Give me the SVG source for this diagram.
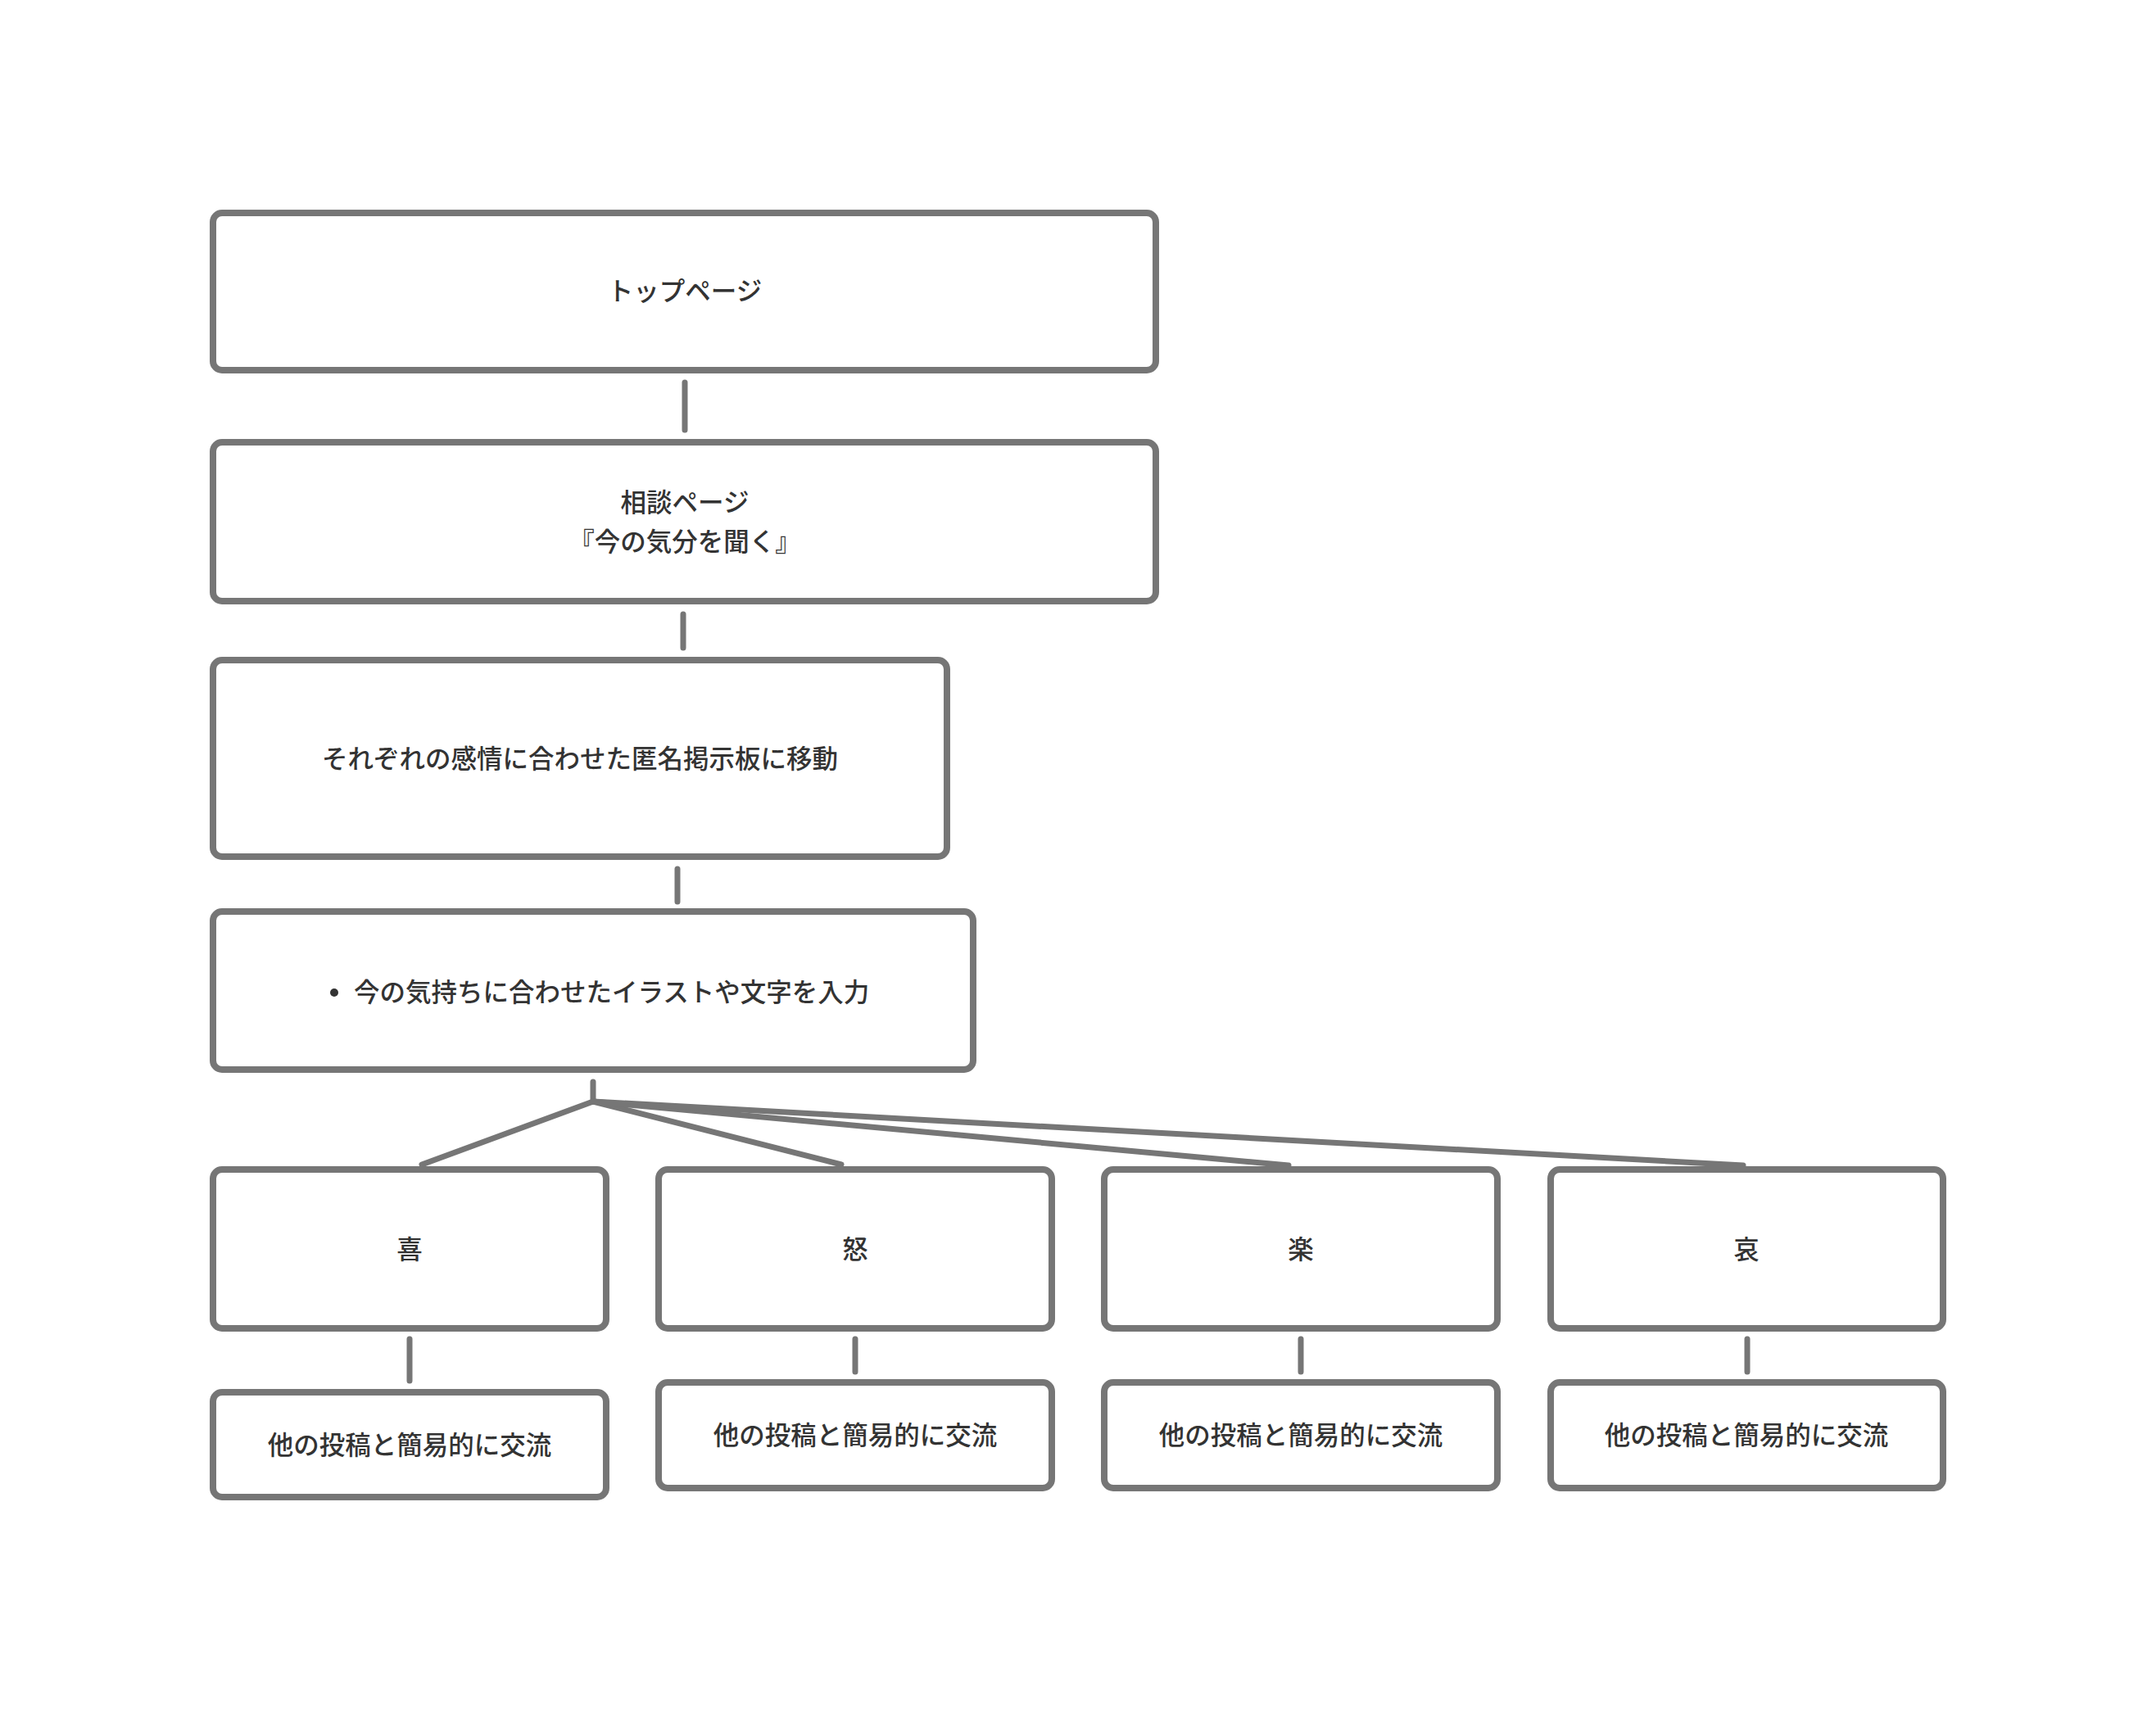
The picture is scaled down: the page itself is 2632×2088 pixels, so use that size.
<svg xmlns="http://www.w3.org/2000/svg" width="2632" height="2088" viewBox="0 0 2632 2088">
<style>
.box{fill:#ffffff;stroke:#767676;stroke-width:8}
.lbl{font-family:"Noto Sans CJK JP","Noto Sans",sans-serif;font-size:31.5px;font-weight:500;fill:#333333;text-anchor:middle;dominant-baseline:central}
.con line{stroke:#767676;stroke-width:7;stroke-linecap:round}
</style>
<rect x="0" y="0" width="2632" height="2088" fill="#ffffff"/>
<g class="con" id="connectors">
<line x1="836" y1="467" x2="836" y2="525"/>
<line x1="834" y1="750" x2="834" y2="791"/>
<line x1="827" y1="1061" x2="827" y2="1101"/>
<line x1="724" y1="1321" x2="724" y2="1345"/>
<line x1="724" y1="1345" x2="515" y2="1422"/>
<line x1="724" y1="1345" x2="1027" y2="1422"/>
<line x1="724" y1="1345" x2="1573" y2="1423"/>
<line x1="724" y1="1345" x2="2128" y2="1423"/>
<line x1="500" y1="1635" x2="500" y2="1686"/>
<line x1="1044" y1="1635" x2="1044" y2="1675"/>
<line x1="1588" y1="1635" x2="1588" y2="1675"/>
<line x1="2133" y1="1635" x2="2133" y2="1675"/>
</g>
<g id="top">
<rect class="box" x="260" y="260" width="1151" height="192" rx="11"/>
<text class="lbl" x="836" y="353">トップページ</text>
</g>
<g id="soudan">
<rect class="box" x="260" y="540" width="1151" height="194" rx="11"/>
<text class="lbl" x="836" y="611">相談ページ</text>
<text class="lbl" x="836" y="659">『今の気分を聞く』</text>
</g>
<g id="move">
<rect class="box" x="260" y="806" width="896" height="240" rx="11"/>
<text class="lbl" x="708" y="924">それぞれの感情に合わせた匿名掲示板に移動</text>
</g>
<g id="input">
<rect class="box" x="260" y="1113" width="928" height="193" rx="11"/>
<circle cx="408" cy="1212" r="5" fill="#333333"/>
<text class="lbl" x="432" y="1209" style="text-anchor:start">今の気持ちに合わせたイラストや文字を入力</text>
</g>
<g id="ki">
<rect class="box" x="260" y="1428" width="480" height="194" rx="11"/>
<text class="lbl" x="500" y="1523">喜</text>
</g>
<g id="do">
<rect class="box" x="804" y="1428" width="480" height="194" rx="11"/>
<text class="lbl" x="1044" y="1523">怒</text>
</g>
<g id="raku">
<rect class="box" x="1348" y="1428" width="480" height="194" rx="11"/>
<text class="lbl" x="1588" y="1523">楽</text>
</g>
<g id="ai">
<rect class="box" x="1893" y="1428" width="479" height="194" rx="11"/>
<text class="lbl" x="2132" y="1523">哀</text>
</g>
<g id="ki2">
<rect class="box" x="260" y="1700" width="480" height="128" rx="11"/>
<text class="lbl" x="500" y="1762">他の投稿と簡易的に交流</text>
</g>
<g id="do2">
<rect class="box" x="804" y="1688" width="480" height="129" rx="11"/>
<text class="lbl" x="1044" y="1750">他の投稿と簡易的に交流</text>
</g>
<g id="raku2">
<rect class="box" x="1348" y="1688" width="480" height="129" rx="11"/>
<text class="lbl" x="1588" y="1750">他の投稿と簡易的に交流</text>
</g>
<g id="ai2">
<rect class="box" x="1893" y="1688" width="479" height="129" rx="11"/>
<text class="lbl" x="2132" y="1750">他の投稿と簡易的に交流</text>
</g>
</svg>
